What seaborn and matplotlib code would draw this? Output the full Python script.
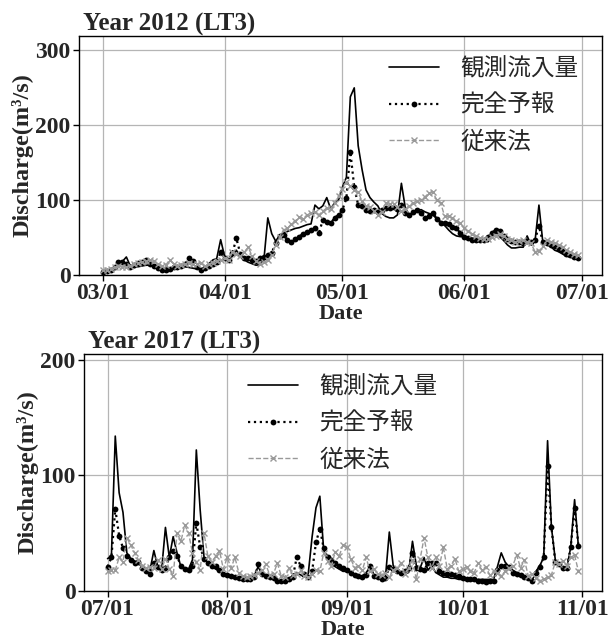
import numpy as np
import pandas as pd
import matplotlib
matplotlib.use("Agg")
import matplotlib.pyplot as plt
import matplotlib.dates as mdates
import seaborn as sns

# ---------------- data ----------------
labels = ["観測流入量", "完全予報", "従来法"]

start_2012 = "2012-03-01"
obs_2012 = [5, 5, 6, 9, 13, 18, 24, 12, 10, 11,
            12, 13, 13, 12, 11, 10, 9, 9, 9, 10,
            10, 11, 10, 9, 8, 8, 10, 15, 20, 22,
            47, 25, 20, 25, 33, 24, 20, 17, 15, 13,
            14, 20, 76, 55, 45, 52, 56, 58, 60, 62,
            63, 65, 67, 68, 93, 88, 92, 103, 88, 96,
            100, 117, 130, 237, 249, 172, 140, 113, 103, 97,
            92, 82, 78, 76, 76, 80, 122, 89, 80, 82,
            85, 87, 84, 82, 80, 75, 71, 66, 60, 55,
            52, 51, 51, 50, 49, 48, 47, 45, 44, 50,
            57, 51, 46, 40, 36, 36, 37, 37, 52, 40,
            45, 93, 43, 40, 38, 33, 31, 28, 25, 24,
            22, 21]
pf_2012 = [4, 5, 6, 10, 17, 17, 15, 11, 13, 16,
           17, 20, 15, 12, 9, 7, 7, 8, 11, 10,
           12, 15, 22, 18, 10, 7, 9, 12, 15, 17,
           30, 22, 20, 29, 49, 28, 22, 23, 20, 18,
           22, 24, 27, 29, 43, 52, 53, 47, 44, 48,
           51, 55, 57, 60, 62, 56, 73, 70, 69, 76,
           80, 87, 102, 164, 117, 93, 92, 87, 85, 86,
           84, 86, 89, 89, 90, 88, 93, 82, 80, 84,
           87, 83, 76, 78, 83, 75, 69, 69, 68, 64,
           62, 56, 51, 49, 47, 47, 46, 47, 50, 56,
           60, 58, 52, 48, 45, 44, 44, 43, 45, 44,
           47, 65, 44, 42, 40, 38, 35, 32, 28, 26,
           24, 23]
cv_2012 = [6, 7, 8, 10, 12, 11, 10, 12, 14, 16,
           17, 18, 20, 18, 15, 12, 13, 20, 15, 12,
           13, 14, 16, 14, 15, 16, 12, 14, 16, 19,
           20, 22, 20, 30, 28, 25, 30, 37, 25, 18,
           15, 17, 20, 27, 40, 51, 60, 62, 68, 72,
           77, 75, 80, 82, 84, 80, 85, 89, 88, 96,
           105, 115, 124, 118, 113, 110, 98, 92, 90, 85,
           80, 84, 96, 94, 95, 90, 85, 88, 92, 96,
           98, 100, 104, 109, 110, 100, 96, 78, 78, 76,
           72, 69, 62, 58, 55, 52, 49, 48, 48, 50,
           52, 55, 52, 48, 46, 44, 45, 46, 44, 42,
           31, 32, 38, 46, 44, 42, 40, 37, 33, 30,
           28, 26]

start_2017 = "2017-07-01"
obs_2017 = [28, 30, 134, 85, 68, 33, 28, 26, 24, 22,
            19, 18, 35, 21, 18, 55, 29, 47, 33, 21,
            20, 19, 27, 122, 70, 29, 24, 21, 19, 17,
            15, 14, 13, 13, 12, 12, 12, 12, 13, 21,
            15, 14, 14, 12, 10, 9, 10, 11, 13, 16,
            14, 12, 15, 47, 72, 82, 35, 27, 23, 21,
            19, 17, 17, 16, 14, 12, 13, 16, 20, 14,
            11, 11, 12, 51, 22, 18, 16, 15, 16, 43,
            22, 20, 29, 18, 22, 16, 14, 12, 12, 11,
            11, 10, 10, 10, 9, 9, 10, 10, 10, 10,
            10, 21, 33, 25, 21, 18, 16, 14, 12, 10,
            9, 17, 22, 29, 130, 55, 27, 22, 20, 20,
            38, 79, 38]
pf_2017 = [21, 29, 71, 48, 37, 30, 27, 24, 25, 20,
           17, 15, 24, 21, 18, 20, 29, 35, 30, 22,
           19, 18, 22, 59, 38, 28, 24, 22, 22, 18,
           15, 14, 13, 12, 11, 10, 10, 10, 12, 23,
           15, 13, 12, 11, 9, 9, 9, 10, 12, 29,
           22, 15, 12, 17, 42, 54, 37, 29, 27, 24,
           22, 20, 18, 16, 14, 13, 12, 14, 22, 13,
           12, 10, 11, 21, 19, 17, 16, 17, 20, 33,
           20, 19, 18, 24, 24, 24, 17, 16, 15, 15,
           14, 13, 11, 10, 10, 10, 9, 9, 8, 9,
           9, 18, 22, 22, 21, 16, 15, 14, 12, 11,
           9, 16, 21, 29, 108, 55, 25, 23, 20, 20,
           38, 72, 39]
cv_2017 = [17, 18, 18, 29, 25, 46, 40, 33, 27, 22,
           20, 21, 20, 27, 19, 28, 19, 13, 50, 43,
           57, 50, 33, 25, 18, 50, 30, 25, 30, 35,
           19, 29, 20, 29, 16, 13, 12, 13, 14, 16,
           18, 23, 14, 15, 24, 13, 12, 20, 14, 15,
           18, 13, 12, 15, 18, 17, 33, 26, 22, 34,
           30, 40, 38, 28, 20, 22, 18, 29, 17, 19,
           15, 14, 16, 12, 18, 20, 24, 15, 20, 27,
           10, 28, 46, 29, 20, 29, 22, 38, 19, 22,
           28, 17, 19, 21, 17, 16, 24, 18, 21, 14,
           17, 16, 13, 17, 20, 22, 31, 20, 27, 13,
           15, 11, 9, 10, 12, 14, 25, 23, 26, 22,
           29, 31, 17]

panels = [
    dict(title="Year 2012 (LT3)", start=start_2012, obs=obs_2012, pf=pf_2012, cv=cv_2012,
         yticks=[0, 100, 200, 300], ylim=(0, 318),
         rect=[79 / 614, 1 - 275 / 639, 523 / 614, 239 / 639], leg_x=0.553),
    dict(title="Year 2017 (LT3)", start=start_2017, obs=obs_2017, pf=pf_2017, cv=cv_2017,
         yticks=[0, 100, 200], ylim=(0, 205),
         rect=[84 / 614, 1 - 591 / 639, 518 / 614, 237 / 639], leg_x=0.276),
]

# ---------------- style ----------------
sns.set_style("white")
plt.rcParams["font.family"] = ["Liberation Serif", "Noto Sans CJK JP", "DejaVu Sans"]
plt.rcParams["font.weight"] = "bold"
plt.rcParams["axes.labelweight"] = "bold"

fig = plt.figure(figsize=(6.14, 6.39), dpi=100)

for p in panels:
    ax = fig.add_axes(p["rect"])
    n = len(p["obs"])
    dates = pd.date_range(p["start"], periods=n, freq="D")
    df = pd.DataFrame({"date": dates, "obs": p["obs"], "pf": p["pf"], "cv": p["cv"]})

    sns.lineplot(data=df, x="date", y="obs", ax=ax, color="black", lw=1.2,
                 label=labels[0])
    sns.lineplot(data=df, x="date", y="pf", ax=ax, color="black", lw=1.6,
                 linestyle=":", marker="o", markersize=4.2, markeredgewidth=0,
                 markerfacecolor="black", label=labels[1])
    sns.lineplot(data=df, x="date", y="cv", ax=ax, color="#999999", lw=1.0,
                 linestyle="--", marker="x", markersize=4.5, markeredgewidth=1.0,
                 markeredgecolor="#999999", label=labels[2])

    ax.set_ylim(*p["ylim"])
    ax.set_yticks(p["yticks"])
    ax.xaxis.set_major_locator(mdates.MonthLocator())
    ax.xaxis.set_major_formatter(mdates.DateFormatter("%m/%d"))
    ax.grid(True, color="#b5b5b5", lw=0.9)
    for s in ax.spines.values():
        s.set_visible(True)
        s.set_color("black")
        s.set_linewidth(1.0)
    ax.tick_params(axis="both", which="major", labelsize=17, length=4, width=1,
                   color="black", direction="out", bottom=True, left=True, pad=2)
    for t in ax.get_xticklabels() + ax.get_yticklabels():
        t.set_fontweight("bold")
    ax.set_xlabel("Date", fontsize=16, fontweight="bold", labelpad=-0.5)
    ax.set_ylabel("Discharge(m³/s)", fontsize=17.5, fontweight="bold", labelpad=1)
    ax.text(0.008, 1.0, p["title"], transform=ax.transAxes, ha="left", va="bottom",
            fontsize=18, fontweight="bold")
    ax.legend(loc="upper left", bbox_to_anchor=(p["leg_x"], 1.0), frameon=False,
              prop={"family": "Noto Sans CJK JP", "size": 17, "weight": "normal"},
              handlelength=2.1, handletextpad=0.9, labelspacing=0.58)

fig.savefig("out.png", dpi=100)
